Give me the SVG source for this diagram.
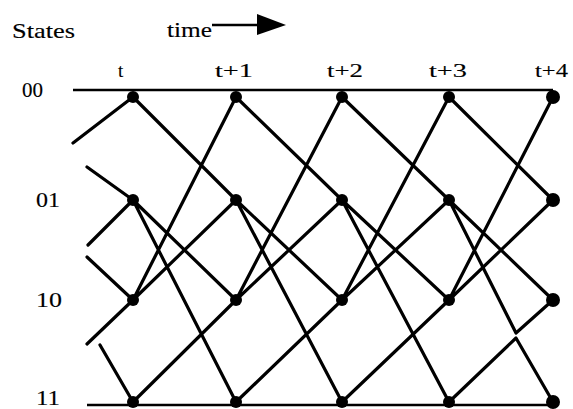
<svg xmlns="http://www.w3.org/2000/svg" width="573" height="409" viewBox="0 0 573 409">
<style>
.edge{stroke:#000;stroke-width:3.2;fill:none;stroke-linecap:round;stroke-linejoin:round}
.rail{stroke:#000;stroke-width:2.6;fill:none}
.node{fill:#000}
.lbl{font-family:"Liberation Serif","Times New Roman",serif;fill:#000;stroke:#000;stroke-width:0.15}
.big{font-size:22px}
.col{font-size:19px}
.row{font-size:21px}
</style>
<rect width="573" height="409" fill="#fff"/>
<g id="labels">
<text class="lbl big" x="12" y="38" textLength="63" lengthAdjust="spacingAndGlyphs">States</text>
<text class="lbl big" x="167" y="37" textLength="45" lengthAdjust="spacingAndGlyphs">time</text>
<text class="lbl col" x="118" y="77">t</text>
<text class="lbl col" x="215" y="77" textLength="38" lengthAdjust="spacingAndGlyphs">t+1</text>
<text class="lbl col" x="327" y="77" textLength="36" lengthAdjust="spacingAndGlyphs">t+2</text>
<text class="lbl col" x="429" y="77" textLength="38" lengthAdjust="spacingAndGlyphs">t+3</text>
<text class="lbl col" x="535" y="77" textLength="33" lengthAdjust="spacingAndGlyphs">t+4</text>
<text class="lbl row" x="22" y="97" textLength="21" lengthAdjust="spacingAndGlyphs">00</text>
<text class="lbl row" x="36" y="207" textLength="24" lengthAdjust="spacingAndGlyphs">01</text>
<text class="lbl row" x="36" y="307" textLength="26" lengthAdjust="spacingAndGlyphs">10</text>
<text class="lbl row" x="36" y="405" textLength="24" lengthAdjust="spacingAndGlyphs">11</text>
</g>
<g id="time-arrow">
<line x1="212" y1="25" x2="262" y2="25" stroke="#000" stroke-width="2.5"/>
<polygon points="257,14 286,25 257,35" fill="#000"/>
</g>
<g id="connectors">
<path class="rail" d="M73,90 L553,90"/>
<path class="rail" d="M87,405 L553,405"/>
<path class="edge" d="M73,143 L133,97 M87,167 L133,200 M88,245 L133,200 M87,257 L133,300 M87,344 L133,300 M100,345 L133,402"/>
<path class="edge" d="M133,97 L236,200 M133,300 L236,97 M133,300 L236,200 M133,200 L236,300 M133,200 L236,402 M133,402 L236,300"/>
<path class="edge" d="M236,97 L342,200 M236,300 L342,97 M236,300 L342,200 M236,200 L342,300 M236,200 L342,402 M236,402 L342,300"/>
<path class="edge" d="M342,97 L449,200 M342,300 L449,97 M342,300 L449,200 M342,200 L449,300 M342,200 L449,402 M342,402 L449,300"/>
<path class="edge" d="M449,97 L553,200 M449,300 L553,97 M449,300 L553,200 M449,200 L553,300 M449,200 L516,333 L553,300 M449,402 L516,338 L553,402"/>
</g>
<g id="n00-t"><circle class="node" cx="133" cy="97" r="6"/></g>
<g id="n01-t"><circle class="node" cx="133" cy="200" r="6"/></g>
<g id="n10-t"><circle class="node" cx="133" cy="300" r="6"/></g>
<g id="n11-t"><circle class="node" cx="133" cy="402" r="6"/></g>
<g id="n00-t1"><circle class="node" cx="236" cy="97" r="6"/></g>
<g id="n01-t1"><circle class="node" cx="236" cy="200" r="6"/></g>
<g id="n10-t1"><circle class="node" cx="236" cy="300" r="6"/></g>
<g id="n11-t1"><circle class="node" cx="236" cy="402" r="6"/></g>
<g id="n00-t2"><circle class="node" cx="342" cy="97" r="6"/></g>
<g id="n01-t2"><circle class="node" cx="342" cy="200" r="6"/></g>
<g id="n10-t2"><circle class="node" cx="342" cy="300" r="6"/></g>
<g id="n11-t2"><circle class="node" cx="342" cy="402" r="6"/></g>
<g id="n00-t3"><circle class="node" cx="449" cy="97" r="6"/></g>
<g id="n01-t3"><circle class="node" cx="449" cy="200" r="6"/></g>
<g id="n10-t3"><circle class="node" cx="449" cy="300" r="6"/></g>
<g id="n11-t3"><circle class="node" cx="449" cy="402" r="6"/></g>
<g id="n00-t4"><circle class="node" cx="553" cy="97" r="7"/></g>
<g id="n01-t4"><circle class="node" cx="553" cy="200" r="7"/></g>
<g id="n10-t4"><circle class="node" cx="553" cy="300" r="7"/></g>
<g id="n11-t4"><circle class="node" cx="553" cy="402" r="7"/></g>
</svg>
